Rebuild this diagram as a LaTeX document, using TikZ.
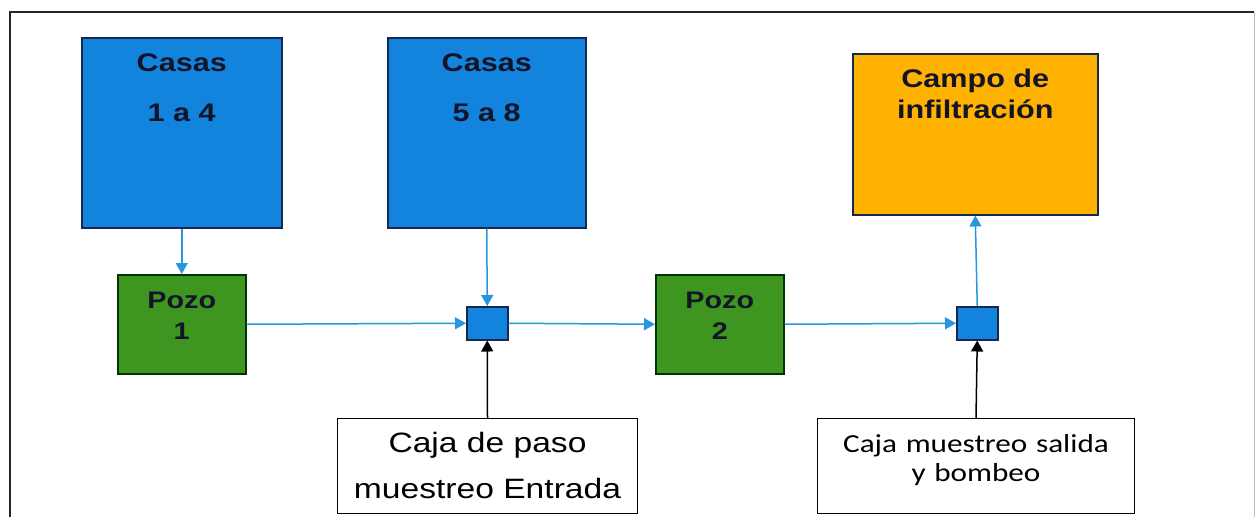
\documentclass[tikz,border=0pt]{standalone}
\usepackage{fontspec}
\usepackage{tikz}
\usetikzlibrary{arrows.meta}

\newfontfamily\arialfont[FakeStretch=1.2]{Liberation Sans}
\newfontfamily\calibrifont[FakeStretch=1.2]{Carlito}

\definecolor{casablue}{RGB}{18,132,222}
\definecolor{pozogreen}{RGB}{62,150,32}
\definecolor{campoorange}{RGB}{255,178,0}
\definecolor{lineblue}{RGB}{40,150,222}
\definecolor{darkline}{RGB}{20,40,80}
\definecolor{inktext}{RGB}{20,20,40}

\begin{document}
\begin{tikzpicture}[x=1pt,y=-1pt,
  flow/.style={-{Triangle[length=11pt,width=12pt]},draw=lineblue,fill=lineblue,line width=1.5pt},
  feed/.style={-{Triangle[length=11pt,width=12pt]},draw=black,fill=black,line width=1.5pt},
  casa node/.style={rectangle,draw=darkline,fill=casablue,line width=1.5pt,anchor=north west,
    inner sep=0pt,align=center,text=inktext,text height=34pt,
    font=\arialfont\bfseries\fontsize{25.5}{50}\selectfont},
  campo node/.style={casa node,fill=campoorange,font=\arialfont\bfseries\fontsize{25.5}{31}\selectfont},
  pozo node/.style={casa node,draw=black!80!green,fill=pozogreen,
    font=\arialfont\bfseries\fontsize{24}{31}\selectfont},
  paso node/.style={rectangle,draw=darkline,fill=casablue,line width=1.5pt,anchor=north west,
    inner sep=0pt,minimum width=41pt,minimum height=33pt},
  caja node/.style={rectangle,draw=black,fill=white,line width=1pt,anchor=north west,
    inner sep=0pt,align=center,text=black,text height=34pt,
    font=\arialfont\fontsize{28}{46}\selectfont}]

  \useasboundingbox (0,0) rectangle (1257,517);

  % marco
  \draw[line width=2pt,black!85] (10,517) -- (10,12) -- (1254,12);
  \draw[line width=0.8pt,black!25] (1254,12) -- (1254,517);

  % casas, pozos y campo
  \node[casa node,text width=200pt,text depth=156pt] (casas1) at (81,37) {Casas\\1 a 4};
  \node[casa node,text width=198pt,text depth=156pt] (casas2) at (387,37) {Casas\\5 a 8};
  \node[campo node,text width=245pt,text depth=127pt] (campo) at (852,53) {Campo de\\infiltración};
  \node[pozo node,text width=128pt,text depth=65pt] (pozo1) at (117,274) {Pozo\\1};
  \node[pozo node,text width=128pt,text depth=65pt] (pozo2) at (655,274) {Pozo\\2};

  % cajas pequeñas
  \node[paso node] (paso1) at (466,306) {};
  \node[paso node] (paso2) at (956,306) {};

  % cajas de muestreo
  \node[caja node,text width=300pt,text depth=61pt] (caja1) at (337,418) {Caja de paso\\muestreo Entrada};
  \node[caja node,text width=317pt,text depth=61pt,
    font=\calibrifont\fontsize{26}{29}\selectfont] (caja2) at (817,418) {Caja muestreo salida\\y bombeo};

  % flujo
  \draw[flow] (casas1.south) -- (pozo1.north);
  \draw[flow] (casas2.south) -- (paso1.north);
  \draw[flow] (pozo1.east) -- (paso1.west);
  \draw[flow] (paso1.east) -- (pozo2.west);
  \draw[flow] (pozo2.east) -- (paso2.west);
  \draw[flow] (paso2.north) -- (campo.south);

  \draw[feed] (caja1.north) -- (paso1.south);
  \draw[feed] (caja2.north) -- (paso2.south);

\end{tikzpicture}
\end{document}
